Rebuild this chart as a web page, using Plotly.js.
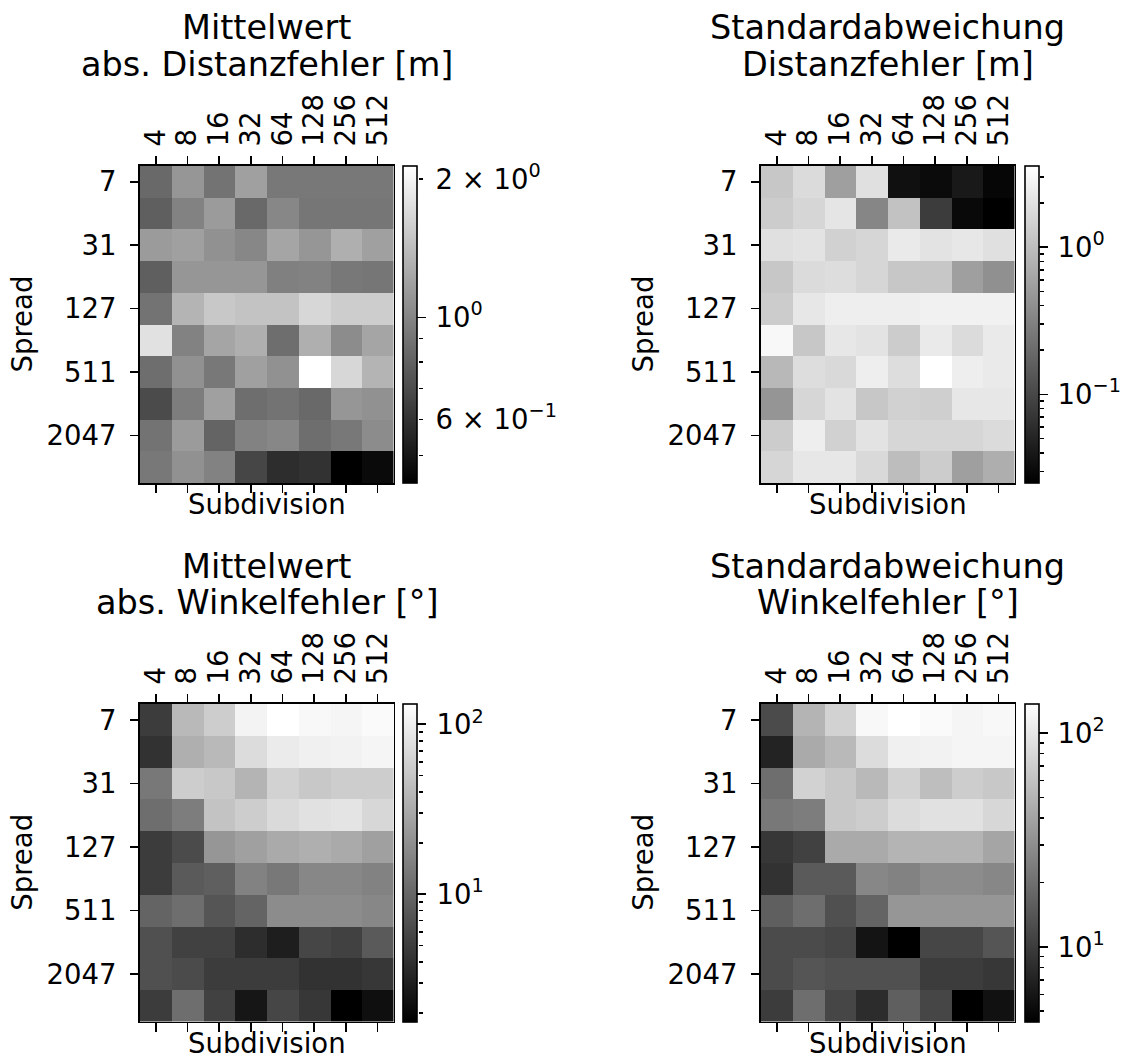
<!DOCTYPE html>
<html><head><meta charset="utf-8">
<script src="https://cdn.plot.ly/plotly-3.0.1.min.js"></script>
<style>body{margin:0;background:#fff}#chart{width:1129px;height:1059px}</style>
</head><body><div id="chart"></div>
<script>
const subdivisions = [4, 8, 16, 32, 64, 128, 256, 512];
const spreads = [7, 15, 31, 63, 127, 255, 511, 1023, 2047, 4095];

const meanDist = [
  [0.839, 1.110, 0.893, 1.182, 0.921, 0.921, 0.921, 0.921],
  [0.788, 0.980, 1.145, 0.839, 1.011, 0.910, 0.910, 0.910],
  [1.145, 1.182, 1.076, 1.011, 1.219, 1.110, 1.297, 1.182],
  [0.788, 1.110, 1.110, 1.110, 0.968, 0.980, 0.921, 0.910],
  [0.893, 1.339, 1.516, 1.470, 1.470, 1.665, 1.564, 1.564],
  [1.771, 0.980, 1.219, 1.297, 0.866, 1.297, 1.043, 1.219],
  [0.866, 1.076, 0.921, 1.182, 1.076, 2.136, 1.665, 1.339],
  [0.696, 0.950, 1.182, 0.866, 0.893, 0.839, 1.110, 1.076],
  [0.893, 1.145, 0.813, 0.980, 1.011, 0.866, 0.921, 1.043],
  [0.921, 1.076, 0.980, 0.675, 0.577, 0.596, 0.436, 0.464]
];
const stdDist = [
  [1.192, 1.752, 0.552, 1.929, 0.0338, 0.0307, 0.0410, 0.0279],
  [1.312, 1.591, 2.124, 0.341, 1.083, 0.0804, 0.0295, 0.0250],
  [1.929, 2.043, 1.445, 1.591, 2.338, 2.043, 2.207, 1.929],
  [1.192, 1.752, 1.820, 1.591, 1.192, 1.192, 0.552, 0.413],
  [1.312, 2.207, 2.575, 2.575, 2.575, 2.727, 2.727, 2.727],
  [3.122, 1.192, 2.207, 2.043, 1.312, 2.338, 1.752, 2.338],
  [0.893, 1.820, 1.685, 2.575, 1.820, 3.550, 2.575, 2.338],
  [0.455, 1.591, 2.043, 1.192, 1.445, 1.390, 2.207, 2.207],
  [1.312, 2.575, 1.445, 2.043, 1.591, 1.591, 1.591, 1.752],
  [1.591, 2.207, 2.207, 1.685, 0.983, 1.312, 0.552, 0.736]
];
const meanAngle = [
  [4.93, 40.7, 57.0, 108.3, 132.0, 117.9, 112.1, 122.0],
  [4.16, 34.4, 40.7, 73.5, 94.7, 103.0, 106.5, 112.1],
  [13.58, 57.0, 52.4, 37.4, 62.1, 52.4, 57.0, 57.0],
  [11.47, 14.77, 48.2, 57.0, 71.0, 80.0, 84.1, 67.5],
  [4.93, 6.35, 22.5, 26.7, 31.6, 34.4, 31.6, 26.7],
  [4.93, 8.18, 8.90, 16.08, 13.58, 17.49, 17.49, 16.08],
  [9.69, 11.47, 7.52, 9.69, 19.03, 19.03, 19.03, 17.49],
  [6.91, 5.36, 5.36, 3.83, 2.97, 5.84, 5.36, 8.18],
  [6.91, 6.35, 4.93, 4.93, 4.93, 4.16, 4.16, 4.53],
  [4.93, 11.47, 5.36, 2.60, 5.84, 4.53, 1.78, 2.31]
];
const stdAngle = [
  [12.17, 49.74, 74.4, 123.8, 136.5, 127.2, 119.0, 123.8],
  [7.12, 43.50, 53.2, 85.0, 111.2, 114.2, 119.0, 119.0],
  [19.46, 74.4, 65.1, 53.2, 74.4, 56.9, 69.6, 65.1],
  [22.25, 23.79, 65.1, 69.6, 85.0, 90.9, 90.9, 79.5],
  [9.31, 10.64, 43.50, 43.50, 49.74, 49.74, 49.74, 40.68],
  [8.70, 14.88, 14.88, 27.20, 25.44, 29.09, 29.09, 27.20],
  [15.91, 19.46, 13.01, 17.01, 33.26, 33.26, 33.26, 33.26],
  [12.17, 12.17, 11.37, 5.82, 4.48, 11.37, 11.37, 13.91],
  [12.17, 13.91, 13.01, 13.01, 13.01, 9.95, 9.95, 9.31],
  [9.95, 19.46, 11.37, 8.13, 15.91, 11.37, 4.48, 5.66]
];

const titleLines = [
  ['Mittelwert', 'abs. Distanzfehler [m]'],
  ['Standardabweichung', 'Distanzfehler [m]'],
  ['Mittelwert', 'abs. Winkelfehler [°]'],
  ['Standardabweichung', 'Winkelfehler [°]']
];
const xLabel = 'Subdivision';
const yLabel = 'Spread';

const cbLabelVals = [[2, 1, 0.6], [1, 0.1], [10, 100], [10, 100]];
const cbLabelText = [
  ['2 × 10<sup>0</sup>', '10<sup>0</sup>', '6 × 10<sup>−1</sup>'],
  ['10<sup>0</sup>', '10<sup>−1</sup>'],
  ['10<sup>1</sup>', '10<sup>2</sup>'],
  ['10<sup>1</sup>', '10<sup>2</sup>']
];
const cbMinorVals = [
  [0.5, 0.7, 0.8, 0.9],
  [0.03, 0.04, 0.05, 0.06, 0.07, 0.08, 0.09, 0.2, 0.3, 0.4, 0.5, 0.6, 0.7, 0.8, 0.9, 2, 3],
  [2, 3, 4, 5, 6, 7, 8, 9, 20, 30, 40, 50, 60, 70, 80, 90],
  [5, 6, 7, 8, 9, 20, 30, 40, 50, 60, 70, 80, 90]
];
const cbDecades = [[1], [1, 0.1], [10, 100], [10, 100]];

const datasets = [meanDist, stdDist, meanAngle, stdAngle];

// ---- layout geometry (pixels) ----
const W = 1129, H = 1059;
const fx = p => p / W, fy = p => 1 - p / H;
const boxes = [
  {L: 140, R: 393.5, T: 166, B: 483},
  {L: 761, R: 1014.5, T: 166, B: 483},
  {L: 140, R: 393.5, T: 704, B: 1021.5},
  {L: 761, R: 1014.5, T: 704, B: 1021.5}
];
const cbStandoff = [7, 8, 8, 8];
const FONT = 'DejaVu Sans';
const tickFont = {family: FONT, size: 27.5, color: '#000'};
const titleFont = {family: FONT, size: 33.5, color: '#000'};
const LW = 1.6;

const traces = [];
const layout = {
  width: W, height: H,
  margin: {l: 0, r: 0, t: 0, b: 0},
  paper_bgcolor: '#fff', plot_bgcolor: '#fff',
  font: {family: FONT, color: '#000'},
  showlegend: false,
  annotations: []
};

const colIdx = subdivisions.map((_, i) => i);
const rowIdx = spreads.map((_, i) => i);
const rowTickIdx = rowIdx.filter(i => i % 2 === 0);

datasets.forEach((data, k) => {
  const n = k + 1;
  const b = boxes[k];
  const flat = data.flat();
  const zmin = Math.log10(Math.min(...flat));
  const zmax = Math.log10(Math.max(...flat));
  const cbL = b.R + 10, cbR = b.R + 24;

  traces.push({
    type: 'heatmap',
    x: colIdx, y: rowIdx,
    z: data.map(r => r.map(v => Math.log10(v))),
    zmin: zmin, zmax: zmax,
    colorscale: [[0, '#000000'], [1, '#ffffff']],
    xaxis: 'x' + n, yaxis: 'y' + n,
    hoverinfo: 'skip',
    colorbar: {
      x: fx(cbL), xanchor: 'left', xpad: 0, ypad: 0,
      y: fy((b.T + b.B) / 2), yanchor: 'middle',
      len: (b.B - b.T) / H, lenmode: 'fraction',
      thickness: cbR - cbL, thicknessmode: 'pixels',
      outlinewidth: LW, outlinecolor: '#000',
      tickmode: 'array', tickvals: cbDecades[k].map(v => Math.log10(v)),
      ticks: 'outside', ticklen: 9, tickwidth: LW, tickcolor: '#000',
      showticklabels: false
    }
  });
  // placeholders so the extra axes get drawn
  traces.push({type: 'scatter', x: [], y: [], xaxis: 'x' + (n + 4), yaxis: 'y' + n, hoverinfo: 'skip'});
  traces.push({type: 'scatter', x: [], y: [], xaxis: 'x' + (n + 8), yaxis: 'y' + (n + 4), hoverinfo: 'skip'});

  const xdom = [fx(b.L), fx(b.R)];
  const ydom = [fy(b.B), fy(b.T)];
  layout['xaxis' + n] = {
    domain: xdom, anchor: 'y' + n, side: 'bottom',
    range: [-0.5, colIdx.length - 0.5],
    tickmode: 'array', tickvals: colIdx, showticklabels: false,
    ticks: 'outside', ticklen: 8.5, tickwidth: LW, tickcolor: '#000',
    showline: true, linecolor: '#000', linewidth: LW,
    showgrid: false, zeroline: false, fixedrange: true
  };
  layout['xaxis' + (n + 4)] = {
    overlaying: 'x' + n, anchor: 'y' + n, side: 'top',
    range: [-0.5, colIdx.length - 0.5],
    tickmode: 'array', tickvals: colIdx, ticktext: subdivisions.map(String),
    tickangle: -90, tickfont: tickFont, ticklabelstandoff: 4,
    ticks: 'outside', ticklen: 8.5, tickwidth: LW, tickcolor: '#000',
    showline: true, linecolor: '#000', linewidth: LW,
    showgrid: false, zeroline: false, fixedrange: true
  };
  layout['yaxis' + n] = {
    domain: ydom, anchor: 'x' + n, side: 'left',
    range: [rowIdx.length - 0.5, -0.5],
    tickmode: 'array', tickvals: rowTickIdx, ticktext: rowTickIdx.map(i => String(spreads[i])),
    tickfont: tickFont, ticklabelstandoff: 8,
    ticks: 'outside', ticklen: 8.5, tickwidth: LW, tickcolor: '#000',
    showline: true, mirror: true, linecolor: '#000', linewidth: LW,
    showgrid: false, zeroline: false, fixedrange: true
  };
  layout['xaxis' + (n + 8)] = {
    domain: [fx(cbL), fx(cbR)], anchor: 'y' + (n + 4), visible: false, range: [0, 1], fixedrange: true
  };
  layout['yaxis' + (n + 4)] = {
    domain: ydom, anchor: 'x' + (n + 8), side: 'right', type: 'log',
    range: [zmin, zmax],
    tickmode: 'array', tickvals: cbLabelVals[k], ticktext: cbLabelText[k],
    tickfont: tickFont, ticklabelstandoff: cbStandoff[k],
    ticks: 'outside', ticklen: 4.5, tickwidth: LW, tickcolor: '#000',
    minor: {tickmode: 'array', tickvals: cbMinorVals[k], ticks: 'outside', ticklen: 4.5, tickwidth: LW, tickcolor: '#000', showgrid: false},
    showline: false, showgrid: false, zeroline: false, fixedrange: true
  };

  const cx = (b.L + b.R) / 2;
  layout.annotations.push(
    {text: titleLines[k][0], xref: 'paper', yref: 'paper', x: fx(cx), y: fy(b.T - 138), xanchor: 'center', yanchor: 'middle', showarrow: false, font: titleFont},
    {text: titleLines[k][1], xref: 'paper', yref: 'paper', x: fx(cx), y: fy(b.T - 102), xanchor: 'center', yanchor: 'middle', showarrow: false, font: titleFont},
    {text: xLabel, xref: 'paper', yref: 'paper', x: fx(cx), y: fy(b.B + 21), xanchor: 'center', yanchor: 'middle', showarrow: false, font: tickFont},
    {text: yLabel, xref: 'paper', yref: 'paper', x: fx(b.L - 118), y: fy((b.T + b.B) / 2), xanchor: 'center', yanchor: 'middle', textangle: -90, showarrow: false, font: tickFont}
  );
});

Plotly.newPlot('chart', traces, layout, {displayModeBar: false, staticPlot: true});
</script>
</body></html>
